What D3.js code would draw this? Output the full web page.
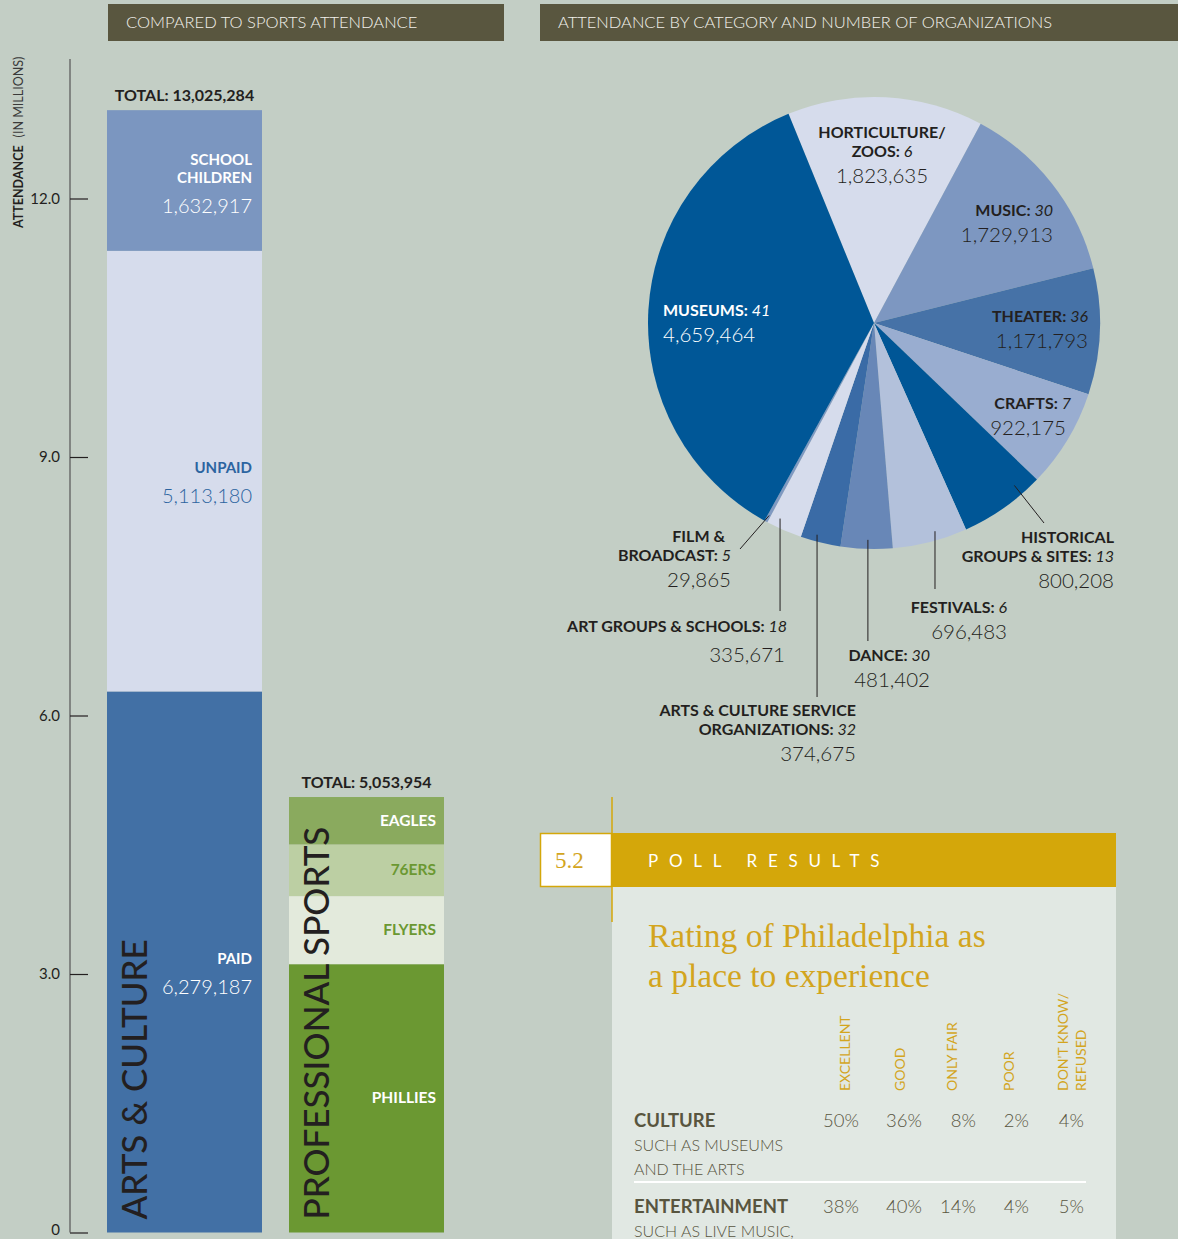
<!DOCTYPE html>
<html>
<head>
<meta charset="utf-8">
<script src="https://cdn.jsdelivr.net/npm/d3@7"></script>
<style>
  body { margin: 0; background: #c3cec5; }
  svg { display: block; }
  text { font-family: Lato, "Open Sans", "Noto Sans", sans-serif; }
  .serif { font-family: "Liberation Serif", "DejaVu Serif", serif; }
</style>
</head>
<body>
<svg id="chart" width="1178" height="1239"></svg>
<script>
// ---- Attendance stacks (arts & culture vs. professional sports) ----
const barGroups = ["ARTS & CULTURE", "PROFESSIONAL SPORTS"];
const artsSegments = ["PAID", "UNPAID", "SCHOOL CHILDREN"];
const artsValues = [6279187, 5113180, 1632917];
const sportsTeams = ["PHILLIES", "FLYERS", "76ERS", "EAGLES"];
const sportsValues = [3113954, 790000, 600000, 550000];
const yTicks = [0, 3, 6, 9, 12];

// ---- Attendance by category (pie), clockwise from Horticulture ----
const pieCategories = ["HORTICULTURE/ZOOS", "MUSIC", "THEATER", "CRAFTS",
  "HISTORICAL GROUPS & SITES", "FESTIVALS", "DANCE",
  "ARTS & CULTURE SERVICE ORGANIZATIONS", "ART GROUPS & SCHOOLS",
  "FILM & BROADCAST", "MUSEUMS"];
const pieValues = [1823635, 1729913, 1171793, 922175, 800208, 696483,
  481402, 374675, 335671, 29865, 4659464];
const pieOrgCounts = [6, 30, 36, 7, 13, 6, 30, 32, 18, 5, 41];

// ---- Poll results ----
const pollRatings = ["EXCELLENT", "GOOD", "ONLY FAIR", "POOR", "DON'T KNOW/|REFUSED"];
const pollTopics = ["CULTURE", "ENTERTAINMENT"];
const pollTopicNotes = [["SUCH AS MUSEUMS", "AND THE ARTS"], ["SUCH AS LIVE MUSIC,"]];
const pollCulture = [50, 36, 8, 2, 4];
const pollEntertainment = [38, 40, 14, 4, 5];

// ---- styling ----
const INK = "#231f20";
const OLIVE = "#58553f";
const GOLD = "#d4a70a";
const GOLD_TEXT = "#d3a51e";
const fmt = d3.format(",");

const svg = d3.select("#chart");

// Header bands
function header(x, w, label) {
  svg.append("rect").attr("x", x).attr("y", 4).attr("width", w).attr("height", 37).attr("fill", "#59563f");
  svg.append("text").attr("x", x + 18).attr("y", 28).attr("fill", "#f1f0ea")
    .attr("font-size", 16.5).attr("font-weight", 300).text(label);
}
header(108, 396, "COMPARED TO SPORTS ATTENDANCE");
header(540, 638, "ATTENDANCE BY CATEGORY AND NUMBER OF ORGANIZATIONS");

// ================= Stacked bars =================
const y = d3.scaleLinear().domain([0, 12]).range([1232.5, 198.5]);
const x = d3.scaleBand().domain(barGroups).range([107, 444]).paddingInner(0.1484);

// axis line + ticks
svg.append("line").attr("x1", 70).attr("x2", 70).attr("y1", 59).attr("y2", y(0))
  .attr("stroke", "#555").attr("stroke-width", 1.2);
const axis = d3.axisLeft(y).tickValues(yTicks).tickSizeInner(-18).tickSizeOuter(0).tickPadding(10)
  .tickFormat(d => d === 0 ? "0" : d3.format(".1f")(d));
const ag = svg.append("g").attr("transform", "translate(70,0)").call(axis);
ag.select(".domain").remove();
ag.selectAll(".tick line").attr("stroke", INK).attr("stroke-width", 1.2);
ag.selectAll(".tick text").attr("fill", INK).attr("font-size", 15).attr("font-family", "Lato, sans-serif")
  .attr("dy", d => d === 0 ? "0.1em" : "0.33em");

// axis title
const at = svg.append("text").attr("transform", "translate(23,228) rotate(-90)")
  .attr("font-size", 12.5).attr("fill", INK);
at.append("tspan").attr("font-weight", 700).text("ATTENDANCE");
at.append("tspan").attr("font-weight", 400).attr("dx", 8).attr("fill", "#3a3a3a").text("(IN MILLIONS)");

function stackBar(group, names, values, colors) {
  const ends = d3.cumsum(values.map(v => v / 1e6));
  const bw = x.bandwidth();
  const x0 = x(group);
  const g = svg.append("g");
  names.forEach((name, i) => {
    const top = y(ends[i]), bot = y(i ? ends[i - 1] : 0);
    g.append("rect").attr("x", x0).attr("y", top).attr("width", bw).attr("height", bot - top).attr("fill", colors[i]);
  });
  const total = d3.sum(values);
  svg.append("text").attr("x", x0 + bw / 2).attr("y", y(ends[ends.length - 1]) - 9)
    .attr("text-anchor", "middle").attr("font-size", 16).attr("font-weight", 700).attr("fill", INK)
    .text("TOTAL: " + fmt(total));
  return { ends, x0, bw };
}

// Arts & culture
const arts = stackBar("ARTS & CULTURE", artsSegments, artsValues,
  ["#4270a5", "#d6dcec", "#7b96c0"]);
const artsLabelColors = ["#ffffff", "#2c64a0", "#ffffff"];
const artsNameLines = [["PAID"], ["UNPAID"], ["SCHOOL", "CHILDREN"]];
artsSegments.forEach((name, i) => {
  const mid = (y(arts.ends[i]) + y(i ? arts.ends[i - 1] : 0)) / 2;
  const lines = artsNameLines[i];
  const first = mid + 2 - 18 * (lines.length - 1);
  const rx = arts.x0 + arts.bw - 10;
  lines.forEach((ln, k) => {
    svg.append("text").attr("x", rx).attr("y", first + k * 18).attr("text-anchor", "end")
      .attr("font-size", 15).attr("font-weight", 700).attr("fill", artsLabelColors[i]).text(ln);
  });
  svg.append("text").attr("x", rx).attr("y", first + (lines.length - 1) * 18 + 30).attr("text-anchor", "end")
    .attr("font-size", 20).attr("font-weight", 300).attr("fill", artsLabelColors[i]).text(fmt(artsValues[i]));
});

// Professional sports
const sports = stackBar("PROFESSIONAL SPORTS", sportsTeams, sportsValues,
  ["#6b9832", "#e3eadc", "#bccfa3", "#8aaa5e"]);
const sportsLabelColors = ["#ffffff", "#6b9832", "#6b9832", "#ffffff"];
sportsTeams.forEach((name, i) => {
  const mid = (y(sports.ends[i]) + y(i ? sports.ends[i - 1] : 0)) / 2;
  svg.append("text").attr("x", sports.x0 + sports.bw - 8).attr("y", mid + 5).attr("text-anchor", "end")
    .attr("font-size", 15.5).attr("font-weight", 700).attr("fill", sportsLabelColors[i]).text(name);
});

// group names running up each bar
[[arts, "ARTS & CULTURE"], [sports, "PROFESSIONAL SPORTS"]].forEach(([b, label]) => {
  svg.append("text").attr("transform", `translate(${b.x0 + 40},${y(0) - 13}) rotate(-90)`)
    .attr("font-size", 35).attr("font-weight", 500).attr("fill", INK).text(label);
});

// ================= Pie =================
const cx = 874, cy = 323, R = 226;
const a0 = -0.388;
const pie = d3.pie().sort(null).value(d => d).startAngle(a0).endAngle(a0 + 2 * Math.PI);
const arcs = pie(pieValues);
const arcGen = d3.arc().innerRadius(0).outerRadius(R);
const sliceColors = ["#d6dcec", "#7d97c1", "#4672a7", "#99add0", "#005696",
  "#b3c1db", "#6887b7", "#3a6ba6", "#d6dcec", "#7f99c2", "#005797"];
const pg = svg.append("g").attr("transform", `translate(${cx},${cy})`);
pg.selectAll("path").data(arcs).join("path").attr("d", arcGen).attr("fill", (d, i) => sliceColors[i]);

// label placement for each slice
const pieLabels = [
  { lines: ["HORTICULTURE/", "ZOOS"], x: 882, y: 138, anchor: "middle", color: INK },
  { lines: ["MUSIC"], x: 1053, y: 216, anchor: "end", color: INK },
  { lines: ["THEATER"], x: 1088, y: 322, anchor: "end", color: INK },
  { lines: ["CRAFTS"], x: 1071, y: 409, anchor: "end", color: INK, numX: 1066 },
  { lines: ["HISTORICAL", "GROUPS & SITES"], x: 1114, y: 543, anchor: "end", color: INK,
    leader: { t: 0.24, rf: 0.95, to: [1044, 523] } },
  { lines: ["FESTIVALS"], x: 1007, y: 613, anchor: "end", color: INK,
    leader: { t: 0.4, rf: 0.96, toY: 589 } },
  { lines: ["DANCE"], x: 930, y: 661, anchor: "end", color: INK,
    leader: { t: 0.48, rf: 0.96, toY: 641 } },
  { lines: ["ARTS & CULTURE SERVICE", "ORGANIZATIONS"], x: 856, y: 716, anchor: "end", color: INK,
    leader: { t: 0.63, rf: 0.97, toY: 697 } },
  { lines: ["ART GROUPS & SCHOOLS"], x: 787, y: 632, anchor: "end", color: INK, numX: 785, numGap: 30,
    leader: { t: 0.73, rf: 0.96, toY: 611 } },
  { lines: ["FILM &", "BROADCAST"], x: 731, y: 542, anchor: "end", color: INK, firstX: 725,
    leader: { t: 0.5, rf: 0.97, to: [740, 549] } },
  { lines: ["MUSEUMS"], x: 663, y: 316, anchor: "start", color: "#ffffff" }
];

pieLabels.forEach((L, i) => {
  const g = svg.append("g");
  L.lines.forEach((ln, k) => {
    const last = k === L.lines.length - 1;
    const t = g.append("text")
      .attr("x", (k === 0 && L.firstX && L.lines.length > 1) ? L.firstX : L.x)
      .attr("y", L.y + k * 19).attr("text-anchor", L.anchor)
      .attr("font-size", 16).attr("fill", L.color);
    t.append("tspan").attr("font-weight", 700).text(last ? ln + ": " : ln);
    if (last) t.append("tspan").attr("font-style", "italic").attr("font-weight", 400).text(pieOrgCounts[i]);
  });
  g.append("text").attr("x", L.numX || L.x)
    .attr("y", L.y + (L.lines.length - 1) * 19 + (L.numGap || 26))
    .attr("text-anchor", L.anchor).attr("font-size", 20.5).attr("font-weight", 300)
    .attr("fill", L.color).text(fmt(pieValues[i]));
  if (L.leader) {
    const d = arcs[i];
    const ang = d.startAngle + L.leader.t * (d.endAngle - d.startAngle);
    const sx = cx + R * L.leader.rf * Math.sin(ang);
    const sy = cy - R * L.leader.rf * Math.cos(ang);
    const end = L.leader.to || [sx, L.leader.toY];
    svg.append("line").attr("x1", sx).attr("y1", sy).attr("x2", end[0]).attr("y2", end[1])
      .attr("stroke", INK).attr("stroke-width", 1);
  }
});

// ================= Poll results panel =================
svg.append("rect").attr("x", 612).attr("y", 887).attr("width", 504).attr("height", 360).attr("fill", "#e1e8e3");
svg.append("rect").attr("x", 612).attr("y", 833).attr("width", 504).attr("height", 54).attr("fill", GOLD);
svg.append("rect").attr("x", 540.5).attr("y", 833.5).attr("width", 71).attr("height", 53)
  .attr("fill", "#ffffff").attr("stroke", GOLD).attr("stroke-width", 1.5);
svg.append("line").attr("x1", 612).attr("x2", 612).attr("y1", 797).attr("y2", 922)
  .attr("stroke", GOLD).attr("stroke-width", 1.5);
svg.append("text").attr("class", "serif").attr("x", 555).attr("y", 868)
  .attr("font-size", 23).attr("fill", GOLD_TEXT).text("5.2");
svg.append("text").attr("x", 648).attr("y", 867).attr("font-size", 17).attr("font-weight", 400)
  .attr("letter-spacing", 10.7).attr("fill", "#ffffff").text("POLL RESULTS");
["Rating of Philadelphia as", "a place to experience"].forEach((ln, k) => {
  svg.append("text").attr("class", "serif").attr("x", 648).attr("y", 947 + k * 40)
    .attr("font-size", 33.5).attr("fill", GOLD_TEXT).text(ln);
});

// table columns: right edge of each value column, and the column heading's baseline(s)
const colRight = d3.scaleOrdinal().domain(pollRatings).range([859, 922, 976, 1029, 1084]);
const headX = d3.scaleOrdinal().domain(pollRatings).range([[850], [905], [957], [1014], [1068, 1086]]);
pollRatings.forEach(r => {
  const parts = r.split("|");
  parts.forEach((p, k) => {
    svg.append("text").attr("transform", `translate(${headX(r)[k]},1091) rotate(-90)`)
      .attr("font-size", 14).attr("font-weight", 400).attr("fill", GOLD_TEXT).text(p);
  });
});

const rowY = [1127, 1213];
[pollCulture, pollEntertainment].forEach((vals, ri) => {
  svg.append("text").attr("x", 634).attr("y", rowY[ri]).attr("font-size", 18.5).attr("font-weight", 700)
    .attr("fill", OLIVE).text(pollTopics[ri]);
  pollTopicNotes[ri].forEach((ln, k) => {
    svg.append("text").attr("x", 634).attr("y", rowY[ri] + 24 * (k + 1)).attr("font-size", 16)
      .attr("font-weight", 300).attr("fill", OLIVE).text(ln);
  });
  vals.forEach((v, ci) => {
    svg.append("text").attr("x", colRight(pollRatings[ci])).attr("y", rowY[ri])
      .attr("text-anchor", "end").attr("font-size", 18.5).attr("font-weight", 300)
      .attr("fill", OLIVE).text(v + "%");
  });
});
svg.append("line").attr("x1", 634).attr("x2", 1086).attr("y1", 1182).attr("y2", 1182)
  .attr("stroke", "#ffffff").attr("stroke-width", 2);
</script>
</body>
</html>
